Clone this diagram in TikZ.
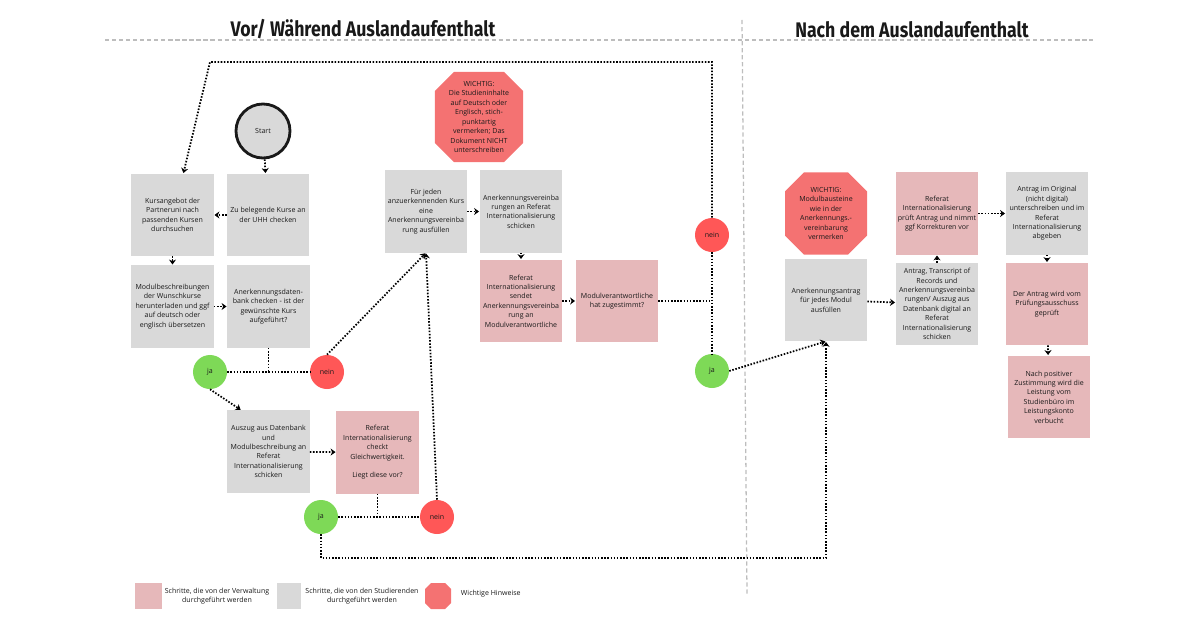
\documentclass[tikz,border=0pt]{standalone}
\usepackage{fontspec}
\setmainfont{Open Sans}
\newfontfamily\titlefont{Fira Sans}[FakeStretch=0.84]
\usetikzlibrary{arrows.meta}

\definecolor{studgray}{HTML}{D9D9D9}
\definecolor{verwpink}{HTML}{E6B8BA}
\definecolor{hinweisred}{HTML}{F47272}
\definecolor{jagreen}{HTML}{7ED957}
\definecolor{neinred}{HTML}{FF5757}
\definecolor{sepgray}{HTML}{BDBDBD}

\tikzset{
  boxtext/.style={align=center, text=black!90, font=\fontsize{5}{6.7}\selectfont},
  stepbox/.style={boxtext, minimum width=2.05cm, minimum height=2.05cm, inner sep=0pt},
  stud/.style={stepbox, fill=studgray},
  verw/.style={stepbox, fill=verwpink},
  hinweis/.style={stepbox, path picture={
    \fill[hinweisred]
      ([xshift=#1]path picture bounding box.north west) --
      ([xshift=-#1]path picture bounding box.north east) --
      ([yshift=-#1]path picture bounding box.north east) --
      ([yshift=#1]path picture bounding box.south east) --
      ([xshift=-#1]path picture bounding box.south east) --
      ([xshift=#1]path picture bounding box.south west) --
      ([yshift=#1]path picture bounding box.south west) --
      ([yshift=-#1]path picture bounding box.north west) -- cycle;}},
  hinweis/.default=0.47cm,
  answer/.style={circle, boxtext, minimum size=0.85cm, inner sep=0pt},
  jacircle/.style={answer, fill=jagreen},
  neincircle/.style={answer, fill=neinred},
  flow/.style={line width=1.25pt, dash pattern=on 1.1pt off 1.15pt},
  flowarrow/.style={flow, -{Stealth[length=3.5pt,width=5pt]}, shorten >=0.5pt},
  separator/.style={sepgray, line width=0.9pt, dash pattern=on 3pt off 2pt},
  phasetitle/.style={font=\titlefont\bfseries\fontsize{15}{17}\selectfont, text=black!90}
}

\begin{document}
\begin{tikzpicture}[x=0.025cm, y=-0.025cm]
\useasboundingbox (0,0) rectangle (1200,630);

\node[phasetitle] (vortitle) at (363,29) {Vor/ Während Auslandaufenthalt};
\node[phasetitle] (nachtitle) at (912,30) {Nach dem Auslandaufenthalt};
\draw[separator] (105,40) -- (1093,40);
\draw[separator] (742,20) -- (747,595);

\node[circle, fill=studgray, draw=black!90, line width=2pt, minimum size=1.35cm, boxtext] (start) at (263,131) {Start};
\node[stud] (kurs) at (172.5,215) {Kursangebot der\\Partneruni nach\\passenden Kursen\\durchsuchen};
\node[stud] (zubel) at (268,215) {Zu belegende Kurse an\\der UHH checken};
\node[stud] (modul) at (172.5,306.5) {Modulbeschreibungen\\der Wunschkurse\\herunterladen und ggf\\auf deutsch oder\\englisch übersetzen};
\node[stud] (dbank) at (268.5,306.5) {Anerkennungsdaten-\\bank checken - ist der\\gewünschte Kurs\\aufgeführt?};
\node[jacircle] (ja1) at (210,372) {ja};
\node[neincircle] (nein1) at (327,372) {nein};
\node[stud] (auszug) at (268.5,451.5) {Auszug aus Datenbank\\und\\Modulbeschreibung an\\Referat\\Internationalisierung\\schicken};
\node[verw] (refcheck) at (377.5,452.5) {Referat\\Internationalisierung\\checkt\\Gleichwertigkeit.\\[6.7pt]Liegt diese vor?};
\node[jacircle] (ja2) at (321,517) {ja};
\node[neincircle] (nein2) at (437,517) {nein};

\node[hinweis, minimum width=2.2cm, minimum height=2.25cm] (wichtig1) at (479,117) {WICHTIG:\\Die Studieninhalte\\auf Deutsch oder\\Englisch, stich-\\punktartig\\vermerken; Das\\Dokument NICHT\\unterschreiben};
\node[stud] (fuer) at (426,211.5) {Für jeden\\anzuerkennenden Kurs\\eine\\Anerkennungsvereinba\\rung ausfüllen};
\node[stud] (avsend) at (521,211.5) {Anerkennungsvereinba\\rungen an Referat\\Internationalisierung\\schicken};
\node[verw] (refsend) at (521,301) {Referat\\Internationalisierung\\sendet\\Anerkennungsvereinba\\rung an\\Modulverantwortliche};
\node[verw] (modverant) at (617,301) {Modulverantwortliche\\hat zugestimmt?};
\node[neincircle] (nein3) at (712,235) {nein};
\node[jacircle] (ja3) at (712,371) {ja};

\node[hinweis] (wichtig2) at (826,213.5) {WICHTIG:\\Modulbausteine\\wie in der\\Anerkennungs.-\\vereinbarung\\vermerken};
\node[stud] (antrag) at (826,300) {Anerkennungsantrag\\für jedes Modul\\ausfüllen};
\node[stud] (transcript) at (937,304) {Antrag, Transcript of\\Records und\\Anerkennungsvereinba\\rungen/ Auszug aus\\Datenbank digital an\\Referat\\Internationalisierung\\schicken};
\node[verw] (refpruef) at (937,213.5) {Referat\\Internationalisierung\\prüft Antrag und nimmt\\ggf Korrekturen vor};
\node[stud] (original) at (1047,213.5) {Antrag im Original\\(nicht digital)\\unterschreiben und im\\Referat\\Internationalisierung\\abgeben};
\node[verw] (pruefung) at (1047,304) {Der Antrag wird vom\\Prüfungsausschuss\\geprüft};
\node[verw] (positiv) at (1049,397) {Nach positiver\\Zustimmung wird die\\Leistung vom\\Studienbüro im\\Leistungskonto\\verbucht};

\coordinate (toprow) at (0,62);
\coordinate (topL) at (210,62);
\coordinate (bottomrow) at (0,558);

\draw[flowarrow] (start) -- (zubel);
\draw[flowarrow] (zubel) -- (kurs);
\draw[flowarrow] (kurs) -- (modul);
\draw[flowarrow] (modul) -- (dbank);
\draw[flow] (dbank.south) -- (dbank.south |- ja1);
\draw[flow] (ja1) -- (nein1);
\draw[flowarrow] (ja1.south) -- ([xshift=0.35cm]auszug.north west);
\draw[flowarrow] (auszug) -- (refcheck);
\draw[flow] (refcheck.south) -- (refcheck.south |- ja2);
\draw[flow] (ja2) -- (nein2);
\draw[flowarrow] (nein1.north) -- (fuer.south);
\draw[flowarrow] (nein2.north) -- (fuer.south);
\draw[flowarrow] (ja2.south) -- (ja2.south |- bottomrow) -- (bottomrow -| antrag.south) -- (antrag.south);

\draw[flowarrow] (fuer) -- (avsend);
\draw[flowarrow] (avsend) -- (refsend);
\draw[flowarrow] (refsend) -- (modverant);
\draw[flow] (modverant.east) -- (modverant.east -| nein3);
\draw[flow] (nein3) -- (ja3);
\draw[flowarrow] (nein3.north) -- (nein3.north |- toprow) -- (topL) -- ([xshift=0.27cm]kurs.north);
\draw[flowarrow] (ja3.east) -- (antrag.south);

\draw[flowarrow] (antrag) -- (transcript);
\draw[flowarrow] (transcript) -- (refpruef);
\draw[flowarrow] (refpruef) -- (original);
\draw[flowarrow] (original) -- (pruefung);
\draw[flowarrow] (pruefung) -- (positiv);

\node[verw, minimum width=0.67cm, minimum height=0.65cm] (legverw) at (148.5,596) {};
\node[boxtext] (legverwtext) at (217,596) {Schritte, die von der Verwaltung\\durchgeführt werden};
\node[stud, minimum width=0.6cm, minimum height=0.65cm] (legstud) at (289,596) {};
\node[boxtext] (legstudtext) at (362,596) {Schritte, die von den Studierenden\\durchgeführt werden};
\node[hinweis=0.15cm, minimum width=0.65cm, minimum height=0.65cm] (leghinweis) at (438,596) {};
\node[boxtext, anchor=west] (leghinweistext) at (456,594) {Wichtige Hinweise};
\end{tikzpicture}
\end{document}
